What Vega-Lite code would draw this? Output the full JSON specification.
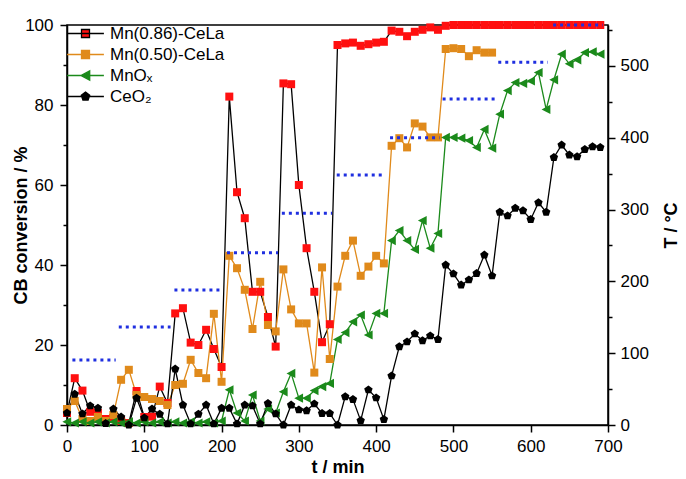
{
  "$schema": "https://vega.github.io/schema/vega-lite/v6.json",
  "width": 541,
  "height": 400,
  "autosize": "none",
  "padding": {"left": 67, "top": 25, "right": 78, "bottom": 54},
  "background": "white",
  "config": {
    "font": "Liberation Sans",
    "view": {"stroke": "black", "strokeWidth": 1.5},
    "axis": {
      "grid": false,
      "domainColor": "black",
      "domainWidth": 1.5,
      "tickColor": "black",
      "tickWidth": 1.5,
      "labelColor": "black",
      "labelFontSize": 17,
      "labelOverlap": false,
      "labelFlush": false,
      "titleColor": "black",
      "titleFontSize": 18,
      "titleFontWeight": "bold"
    }
  },
  "datasets": {
    "conv": [
      {"t": 0, "series": "Mn(0.86)-CeLa", "v": 3.0},
      {"t": 10, "series": "Mn(0.86)-CeLa", "v": 11.7},
      {"t": 20, "series": "Mn(0.86)-CeLa", "v": 8.6},
      {"t": 30, "series": "Mn(0.86)-CeLa", "v": 3.3},
      {"t": 40, "series": "Mn(0.86)-CeLa", "v": 3.0},
      {"t": 50, "series": "Mn(0.86)-CeLa", "v": 1.5},
      {"t": 60, "series": "Mn(0.86)-CeLa", "v": 1.8},
      {"t": 70, "series": "Mn(0.86)-CeLa", "v": 1.0},
      {"t": 80, "series": "Mn(0.86)-CeLa", "v": 0.5},
      {"t": 90, "series": "Mn(0.86)-CeLa", "v": 8.5},
      {"t": 100, "series": "Mn(0.86)-CeLa", "v": 2.0},
      {"t": 110, "series": "Mn(0.86)-CeLa", "v": 2.1},
      {"t": 120, "series": "Mn(0.86)-CeLa", "v": 9.6},
      {"t": 130, "series": "Mn(0.86)-CeLa", "v": 5.5},
      {"t": 140, "series": "Mn(0.86)-CeLa", "v": 27.9},
      {"t": 150, "series": "Mn(0.86)-CeLa", "v": 29.2},
      {"t": 160, "series": "Mn(0.86)-CeLa", "v": 20.6},
      {"t": 170, "series": "Mn(0.86)-CeLa", "v": 20.0},
      {"t": 180, "series": "Mn(0.86)-CeLa", "v": 23.8},
      {"t": 190, "series": "Mn(0.86)-CeLa", "v": 19.0},
      {"t": 200, "series": "Mn(0.86)-CeLa", "v": 14.5},
      {"t": 210, "series": "Mn(0.86)-CeLa", "v": 82.1},
      {"t": 220, "series": "Mn(0.86)-CeLa", "v": 58.2},
      {"t": 230, "series": "Mn(0.86)-CeLa", "v": 51.7},
      {"t": 240, "series": "Mn(0.86)-CeLa", "v": 33.3},
      {"t": 250, "series": "Mn(0.86)-CeLa", "v": 33.3},
      {"t": 260, "series": "Mn(0.86)-CeLa", "v": 27.0},
      {"t": 270, "series": "Mn(0.86)-CeLa", "v": 19.6},
      {"t": 280, "series": "Mn(0.86)-CeLa", "v": 85.4},
      {"t": 290, "series": "Mn(0.86)-CeLa", "v": 85.2},
      {"t": 300, "series": "Mn(0.86)-CeLa", "v": 60.0},
      {"t": 310, "series": "Mn(0.86)-CeLa", "v": 44.2},
      {"t": 320, "series": "Mn(0.86)-CeLa", "v": 33.3},
      {"t": 330, "series": "Mn(0.86)-CeLa", "v": 20.7},
      {"t": 340, "series": "Mn(0.86)-CeLa", "v": 25.2},
      {"t": 350, "series": "Mn(0.86)-CeLa", "v": 95.0},
      {"t": 360, "series": "Mn(0.86)-CeLa", "v": 95.4},
      {"t": 370, "series": "Mn(0.86)-CeLa", "v": 95.6},
      {"t": 380, "series": "Mn(0.86)-CeLa", "v": 94.8},
      {"t": 390, "series": "Mn(0.86)-CeLa", "v": 95.2},
      {"t": 400, "series": "Mn(0.86)-CeLa", "v": 95.6},
      {"t": 410, "series": "Mn(0.86)-CeLa", "v": 95.8},
      {"t": 420, "series": "Mn(0.86)-CeLa", "v": 98.6},
      {"t": 430, "series": "Mn(0.86)-CeLa", "v": 98.3},
      {"t": 440, "series": "Mn(0.86)-CeLa", "v": 97.2},
      {"t": 450, "series": "Mn(0.86)-CeLa", "v": 98.3},
      {"t": 460, "series": "Mn(0.86)-CeLa", "v": 98.8},
      {"t": 470, "series": "Mn(0.86)-CeLa", "v": 99.4},
      {"t": 480, "series": "Mn(0.86)-CeLa", "v": 98.8},
      {"t": 490, "series": "Mn(0.86)-CeLa", "v": 99.8},
      {"t": 500, "series": "Mn(0.86)-CeLa", "v": 100},
      {"t": 510, "series": "Mn(0.86)-CeLa", "v": 100},
      {"t": 520, "series": "Mn(0.86)-CeLa", "v": 100},
      {"t": 530, "series": "Mn(0.86)-CeLa", "v": 100},
      {"t": 540, "series": "Mn(0.86)-CeLa", "v": 100},
      {"t": 550, "series": "Mn(0.86)-CeLa", "v": 100},
      {"t": 560, "series": "Mn(0.86)-CeLa", "v": 100},
      {"t": 570, "series": "Mn(0.86)-CeLa", "v": 100},
      {"t": 580, "series": "Mn(0.86)-CeLa", "v": 100},
      {"t": 590, "series": "Mn(0.86)-CeLa", "v": 100},
      {"t": 600, "series": "Mn(0.86)-CeLa", "v": 100},
      {"t": 610, "series": "Mn(0.86)-CeLa", "v": 100},
      {"t": 620, "series": "Mn(0.86)-CeLa", "v": 100},
      {"t": 630, "series": "Mn(0.86)-CeLa", "v": 100},
      {"t": 640, "series": "Mn(0.86)-CeLa", "v": 100},
      {"t": 650, "series": "Mn(0.86)-CeLa", "v": 100},
      {"t": 660, "series": "Mn(0.86)-CeLa", "v": 100},
      {"t": 670, "series": "Mn(0.86)-CeLa", "v": 100},
      {"t": 680, "series": "Mn(0.86)-CeLa", "v": 100},
      {"t": 690, "series": "Mn(0.86)-CeLa", "v": 100},

      {"t": 0, "series": "Mn(0.50)-CeLa", "v": 4.0},
      {"t": 10, "series": "Mn(0.50)-CeLa", "v": 6.0},
      {"t": 20, "series": "Mn(0.50)-CeLa", "v": 1.5},
      {"t": 30, "series": "Mn(0.50)-CeLa", "v": 1.0},
      {"t": 40, "series": "Mn(0.50)-CeLa", "v": 2.0},
      {"t": 50, "series": "Mn(0.50)-CeLa", "v": 1.0},
      {"t": 60, "series": "Mn(0.50)-CeLa", "v": 2.5},
      {"t": 70, "series": "Mn(0.50)-CeLa", "v": 11.3},
      {"t": 80, "series": "Mn(0.50)-CeLa", "v": 13.8},
      {"t": 90, "series": "Mn(0.50)-CeLa", "v": 7.5},
      {"t": 100, "series": "Mn(0.50)-CeLa", "v": 7.0},
      {"t": 110, "series": "Mn(0.50)-CeLa", "v": 6.5},
      {"t": 120, "series": "Mn(0.50)-CeLa", "v": 6.0},
      {"t": 130, "series": "Mn(0.50)-CeLa", "v": 5.0},
      {"t": 140, "series": "Mn(0.50)-CeLa", "v": 10.0},
      {"t": 150, "series": "Mn(0.50)-CeLa", "v": 10.3},
      {"t": 160, "series": "Mn(0.50)-CeLa", "v": 16.3},
      {"t": 170, "series": "Mn(0.50)-CeLa", "v": 13.0},
      {"t": 180, "series": "Mn(0.50)-CeLa", "v": 11.7},
      {"t": 190, "series": "Mn(0.50)-CeLa", "v": 27.8},
      {"t": 200, "series": "Mn(0.50)-CeLa", "v": 10.8},
      {"t": 210, "series": "Mn(0.50)-CeLa", "v": 42.3},
      {"t": 220, "series": "Mn(0.50)-CeLa", "v": 39.2},
      {"t": 230, "series": "Mn(0.50)-CeLa", "v": 33.8},
      {"t": 240, "series": "Mn(0.50)-CeLa", "v": 24.0},
      {"t": 250, "series": "Mn(0.50)-CeLa", "v": 35.8},
      {"t": 260, "series": "Mn(0.50)-CeLa", "v": 25.0},
      {"t": 270, "series": "Mn(0.50)-CeLa", "v": 23.4},
      {"t": 280, "series": "Mn(0.50)-CeLa", "v": 38.9},
      {"t": 290, "series": "Mn(0.50)-CeLa", "v": 28.9},
      {"t": 300, "series": "Mn(0.50)-CeLa", "v": 25.4},
      {"t": 310, "series": "Mn(0.50)-CeLa", "v": 25.4},
      {"t": 320, "series": "Mn(0.50)-CeLa", "v": 13.1},
      {"t": 330, "series": "Mn(0.50)-CeLa", "v": 39.4},
      {"t": 340, "series": "Mn(0.50)-CeLa", "v": 16.5},
      {"t": 350, "series": "Mn(0.50)-CeLa", "v": 34.6},
      {"t": 360, "series": "Mn(0.50)-CeLa", "v": 42.3},
      {"t": 370, "series": "Mn(0.50)-CeLa", "v": 46.1},
      {"t": 380, "series": "Mn(0.50)-CeLa", "v": 37.3},
      {"t": 390, "series": "Mn(0.50)-CeLa", "v": 39.6},
      {"t": 400, "series": "Mn(0.50)-CeLa", "v": 42.3},
      {"t": 410, "series": "Mn(0.50)-CeLa", "v": 40.4},
      {"t": 420, "series": "Mn(0.50)-CeLa", "v": 69.8},
      {"t": 430, "series": "Mn(0.50)-CeLa", "v": 71.7},
      {"t": 440, "series": "Mn(0.50)-CeLa", "v": 69.4},
      {"t": 450, "series": "Mn(0.50)-CeLa", "v": 75.4},
      {"t": 460, "series": "Mn(0.50)-CeLa", "v": 74.6},
      {"t": 470, "series": "Mn(0.50)-CeLa", "v": 71.9},
      {"t": 480, "series": "Mn(0.50)-CeLa", "v": 71.9},
      {"t": 490, "series": "Mn(0.50)-CeLa", "v": 94.0},
      {"t": 500, "series": "Mn(0.50)-CeLa", "v": 94.2},
      {"t": 510, "series": "Mn(0.50)-CeLa", "v": 94.0},
      {"t": 520, "series": "Mn(0.50)-CeLa", "v": 92.2},
      {"t": 530, "series": "Mn(0.50)-CeLa", "v": 93.7},
      {"t": 540, "series": "Mn(0.50)-CeLa", "v": 93.1},
      {"t": 550, "series": "Mn(0.50)-CeLa", "v": 93.1},

      {"t": 0, "series": "MnOx", "v": 0.8},
      {"t": 10, "series": "MnOx", "v": 0.5},
      {"t": 20, "series": "MnOx", "v": 0.8},
      {"t": 30, "series": "MnOx", "v": 0.5},
      {"t": 40, "series": "MnOx", "v": 0.8},
      {"t": 50, "series": "MnOx", "v": 0.5},
      {"t": 60, "series": "MnOx", "v": 0.8},
      {"t": 70, "series": "MnOx", "v": 0.5},
      {"t": 80, "series": "MnOx", "v": 0.8},
      {"t": 90, "series": "MnOx", "v": 0.5},
      {"t": 100, "series": "MnOx", "v": 0.8},
      {"t": 110, "series": "MnOx", "v": 0.5},
      {"t": 120, "series": "MnOx", "v": 0.8},
      {"t": 130, "series": "MnOx", "v": 0.5},
      {"t": 140, "series": "MnOx", "v": 0.8},
      {"t": 150, "series": "MnOx", "v": 0.5},
      {"t": 160, "series": "MnOx", "v": 0.8},
      {"t": 170, "series": "MnOx", "v": 0.5},
      {"t": 180, "series": "MnOx", "v": 0.8},
      {"t": 190, "series": "MnOx", "v": 0.5},
      {"t": 200, "series": "MnOx", "v": 1.0},
      {"t": 210, "series": "MnOx", "v": 8.8},
      {"t": 220, "series": "MnOx", "v": 3.0},
      {"t": 230, "series": "MnOx", "v": 1.0},
      {"t": 240, "series": "MnOx", "v": 7.5},
      {"t": 250, "series": "MnOx", "v": 1.0},
      {"t": 260, "series": "MnOx", "v": 4.0},
      {"t": 270, "series": "MnOx", "v": 3.0},
      {"t": 280, "series": "MnOx", "v": 8.3},
      {"t": 290, "series": "MnOx", "v": 12.9},
      {"t": 300, "series": "MnOx", "v": 6.7},
      {"t": 310, "series": "MnOx", "v": 6.7},
      {"t": 320, "series": "MnOx", "v": 8.6},
      {"t": 330, "series": "MnOx", "v": 9.6},
      {"t": 340, "series": "MnOx", "v": 10.4},
      {"t": 350, "series": "MnOx", "v": 21.4},
      {"t": 360, "series": "MnOx", "v": 23.1},
      {"t": 370, "series": "MnOx", "v": 25.8},
      {"t": 380, "series": "MnOx", "v": 27.5},
      {"t": 390, "series": "MnOx", "v": 22.5},
      {"t": 400, "series": "MnOx", "v": 27.9},
      {"t": 410, "series": "MnOx", "v": 27.9},
      {"t": 420, "series": "MnOx", "v": 46.1},
      {"t": 430, "series": "MnOx", "v": 48.6},
      {"t": 440, "series": "MnOx", "v": 46.1},
      {"t": 450, "series": "MnOx", "v": 43.9},
      {"t": 460, "series": "MnOx", "v": 51.1},
      {"t": 470, "series": "MnOx", "v": 44.2},
      {"t": 480, "series": "MnOx", "v": 47.9},
      {"t": 490, "series": "MnOx", "v": 71.9},
      {"t": 500, "series": "MnOx", "v": 71.9},
      {"t": 510, "series": "MnOx", "v": 71.7},
      {"t": 520, "series": "MnOx", "v": 71.1},
      {"t": 530, "series": "MnOx", "v": 69.4},
      {"t": 540, "series": "MnOx", "v": 73.9},
      {"t": 550, "series": "MnOx", "v": 69.2},
      {"t": 560, "series": "MnOx", "v": 77.7},
      {"t": 570, "series": "MnOx", "v": 83.6},
      {"t": 580, "series": "MnOx", "v": 85.6},
      {"t": 590, "series": "MnOx", "v": 85.4},
      {"t": 600, "series": "MnOx", "v": 86.0},
      {"t": 610, "series": "MnOx", "v": 88.1},
      {"t": 620, "series": "MnOx", "v": 78.9},
      {"t": 630, "series": "MnOx", "v": 86.3},
      {"t": 640, "series": "MnOx", "v": 92.7},
      {"t": 650, "series": "MnOx", "v": 90.3},
      {"t": 660, "series": "MnOx", "v": 91.3},
      {"t": 670, "series": "MnOx", "v": 93.1},
      {"t": 680, "series": "MnOx", "v": 93.3},
      {"t": 690, "series": "MnOx", "v": 92.7},

      {"t": 0, "series": "CeO2", "v": 3.0},
      {"t": 10, "series": "CeO2", "v": 7.7},
      {"t": 20, "series": "CeO2", "v": 2.8},
      {"t": 30, "series": "CeO2", "v": 4.8},
      {"t": 40, "series": "CeO2", "v": 4.2},
      {"t": 50, "series": "CeO2", "v": 0.4},
      {"t": 60, "series": "CeO2", "v": 4.0},
      {"t": 70, "series": "CeO2", "v": 2.0},
      {"t": 80, "series": "CeO2", "v": 0.0},
      {"t": 90, "series": "CeO2", "v": 6.7},
      {"t": 100, "series": "CeO2", "v": 1.8},
      {"t": 110, "series": "CeO2", "v": 4.0},
      {"t": 120, "series": "CeO2", "v": 2.7},
      {"t": 130, "series": "CeO2", "v": 0.3},
      {"t": 140, "series": "CeO2", "v": 14.0},
      {"t": 150, "series": "CeO2", "v": 5.0},
      {"t": 160, "series": "CeO2", "v": 0.3},
      {"t": 170, "series": "CeO2", "v": 2.7},
      {"t": 180, "series": "CeO2", "v": 5.0},
      {"t": 190, "series": "CeO2", "v": 0.3},
      {"t": 200, "series": "CeO2", "v": 4.2},
      {"t": 210, "series": "CeO2", "v": 4.2},
      {"t": 220, "series": "CeO2", "v": 0.3},
      {"t": 230, "series": "CeO2", "v": 5.0},
      {"t": 240, "series": "CeO2", "v": 4.8},
      {"t": 250, "series": "CeO2", "v": 0.3},
      {"t": 260, "series": "CeO2", "v": 5.4},
      {"t": 270, "series": "CeO2", "v": 2.8},
      {"t": 280, "series": "CeO2", "v": 0.0},
      {"t": 290, "series": "CeO2", "v": 5.0},
      {"t": 300, "series": "CeO2", "v": 3.8},
      {"t": 310, "series": "CeO2", "v": 3.6},
      {"t": 320, "series": "CeO2", "v": 5.3},
      {"t": 330, "series": "CeO2", "v": 2.9},
      {"t": 340, "series": "CeO2", "v": 2.9},
      {"t": 350, "series": "CeO2", "v": 0.0},
      {"t": 360, "series": "CeO2", "v": 7.1},
      {"t": 370, "series": "CeO2", "v": 6.4},
      {"t": 380, "series": "CeO2", "v": 1.1},
      {"t": 390, "series": "CeO2", "v": 8.8},
      {"t": 400, "series": "CeO2", "v": 6.8},
      {"t": 410, "series": "CeO2", "v": 1.4},
      {"t": 420, "series": "CeO2", "v": 12.3},
      {"t": 430, "series": "CeO2", "v": 19.6},
      {"t": 440, "series": "CeO2", "v": 20.8},
      {"t": 450, "series": "CeO2", "v": 22.8},
      {"t": 460, "series": "CeO2", "v": 21.1},
      {"t": 470, "series": "CeO2", "v": 22.3},
      {"t": 480, "series": "CeO2", "v": 21.4},
      {"t": 490, "series": "CeO2", "v": 40.0},
      {"t": 500, "series": "CeO2", "v": 37.8},
      {"t": 510, "series": "CeO2", "v": 35.0},
      {"t": 520, "series": "CeO2", "v": 36.3},
      {"t": 530, "series": "CeO2", "v": 37.9},
      {"t": 540, "series": "CeO2", "v": 42.5},
      {"t": 550, "series": "CeO2", "v": 37.3},
      {"t": 560, "series": "CeO2", "v": 53.2},
      {"t": 570, "series": "CeO2", "v": 52.3},
      {"t": 580, "series": "CeO2", "v": 54.2},
      {"t": 590, "series": "CeO2", "v": 53.6},
      {"t": 600, "series": "CeO2", "v": 51.4},
      {"t": 610, "series": "CeO2", "v": 55.6},
      {"t": 620, "series": "CeO2", "v": 53.2},
      {"t": 630, "series": "CeO2", "v": 66.9},
      {"t": 640, "series": "CeO2", "v": 70.0},
      {"t": 650, "series": "CeO2", "v": 67.5},
      {"t": 660, "series": "CeO2", "v": 67.1},
      {"t": 670, "series": "CeO2", "v": 68.9},
      {"t": 680, "series": "CeO2", "v": 69.6},
      {"t": 690, "series": "CeO2", "v": 69.4}
    ],
    "temp": [
      {"t0": 7, "t1": 63, "T": 90.5},
      {"t0": 67, "t1": 134, "T": 136.5},
      {"t0": 139, "t1": 201, "T": 188},
      {"t0": 207, "t1": 273, "T": 240},
      {"t0": 278, "t1": 343, "T": 295},
      {"t0": 349, "t1": 411, "T": 348},
      {"t0": 418, "t1": 482, "T": 400},
      {"t0": 486, "t1": 554, "T": 454},
      {"t0": 558, "t1": 622, "T": 505},
      {"t0": 629, "t1": 693, "T": 557}
    ]
  },
  "layer": [
    {
      "data": {"name": "conv"},
      "encoding": {
        "x": {
          "field": "t",
          "type": "quantitative",
          "scale": {"domain": [0, 700], "nice": false},
          "axis": {
            "title": "t / min",
            "values": [0, 50, 100, 150, 200, 250, 300, 350, 400, 450, 500, 550, 600, 650, 700],
            "labelExpr": "datum.value % 100 === 0 ? datum.label : ''",
            "tickSize": {"condition": {"test": "datum.value % 100 === 0", "value": 7}, "value": 4},
            "labelPadding": 6,
            "titlePadding": 4
          }
        },
        "y": {
          "field": "v",
          "type": "quantitative",
          "scale": {"domain": [0, 100], "nice": false},
          "axis": {
            "title": "CB conversion / %",
            "values": [0, 10, 20, 30, 40, 50, 60, 70, 80, 90, 100],
            "labelExpr": "datum.value % 20 === 0 ? datum.label : ''",
            "tickSize": {"condition": {"test": "datum.value % 20 === 0", "value": 7}, "value": 4},
            "labelPadding": 7,
            "titlePadding": -6
          }
        }
      },
      "layer": [
        {
          "mark": {"type": "line", "strokeWidth": 1.3},
          "encoding": {
            "detail": {"field": "series", "type": "nominal"},
            "stroke": {
              "condition": [
                {"test": "datum.series === 'Mn(0.50)-CeLa'", "value": "#E08A1B"},
                {"test": "datum.series === 'MnOx'", "value": "#1B8A1B"}
              ],
              "value": "#000000"
            },
            "order": {"field": "t"}
          }
        },
        {
          "mark": {"type": "point", "filled": true, "opacity": 1, "strokeWidth": 0, "size": 64},
          "encoding": {
            "fill": {
              "field": "series",
              "type": "nominal",
              "scale": {
                "domain": ["Mn(0.86)-CeLa", "Mn(0.50)-CeLa", "MnOx", "CeO2"],
                "range": ["#FF1010", "#E08A1B", "#1B8A1B", "#000000"]
              },
              "legend": {
                "title": null,
                "orient": "top-left",
                "offset": 0,
                "padding": 0,
                "labelFontSize": 17,
                "labelColor": "black",
                "symbolSize": 64,
                "symbolStrokeWidth": 1.3,
                "symbolOffset": 10,
                "labelOffset": 16,
                "rowPadding": 3,
                "labelExpr": "datum.label === 'MnOx' ? 'MnOₓ' : datum.label === 'CeO2' ? 'CeO₂' : datum.label"
              }
            },
            "shape": {
              "condition": [
                {"test": "datum.series === 'MnOx'", "value": "M-1.15,0L1.05,-1.15V1.15Z"},
                {"test": "datum.series === 'CeO2'", "value": "M0,-1.1L1.05,-0.34L0.65,0.89L-0.65,0.89L-1.05,-0.34Z"}
              ],
              "value": "square"
            }
          }
        },
        {
          "transform": [{"filter": "false"}],
          "mark": {"type": "point", "filled": true},
          "encoding": {
            "shape": {
              "field": "series",
              "type": "nominal",
              "scale": {
                "domain": ["Mn(0.86)-CeLa", "Mn(0.50)-CeLa", "MnOx", "CeO2"],
                "range": [
                  "M-4.6,0H4.6M-1,-1H1V1H-1Z",
                  "M-4.6,0H4.6M-1,-1H1V1H-1Z",
                  "M-4.6,0H4.6M-1.15,0L1.05,-1.15V1.15Z",
                  "M-4.6,0H4.6M0,-1.1L1.05,-0.34L0.65,0.89L-0.65,0.89L-1.05,-0.34Z"
                ]
              }
            },
            "stroke": {
              "field": "series",
              "type": "nominal",
              "scale": {
                "domain": ["Mn(0.86)-CeLa", "Mn(0.50)-CeLa", "MnOx", "CeO2"],
                "range": ["#000000", "#E08A1B", "#1B8A1B", "#000000"]
              }
            }
          }
        }
      ]
    },
    {
      "data": {"name": "temp"},
      "mark": {"type": "rule", "strokeWidth": 3, "strokeDash": [3, 4], "color": "#1F2FE0"},
      "encoding": {
        "x": {"field": "t0", "type": "quantitative"},
        "x2": {"field": "t1"},
        "y": {
          "field": "T",
          "type": "quantitative",
          "scale": {"domain": [0, 557], "nice": false},
          "axis": {
            "orient": "right",
            "title": "T / °C",
            "titleAngle": 270,
            "titleBaseline": "top",
            "values": [0, 50, 100, 150, 200, 250, 300, 350, 400, 450, 500, 550],
            "labelExpr": "datum.value % 100 === 0 ? datum.label : ''",
            "tickSize": {"condition": {"test": "datum.value % 100 === 0", "value": 7}, "value": 4},
            "labelPadding": 5,
            "titlePadding": 14
          }
        }
      }
    }
  ],
  "resolve": {"scale": {"y": "independent"}}
}
